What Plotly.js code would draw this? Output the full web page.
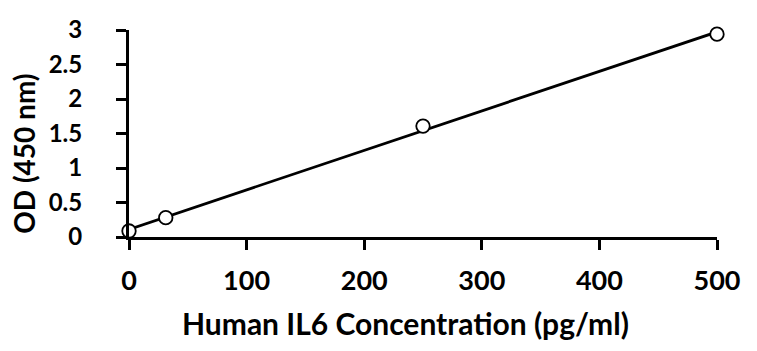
<!DOCTYPE html>
<html><head><meta charset="utf-8">
<script src="https://cdn.plot.ly/plotly-3.0.1.min.js"></script>
<style>html,body{margin:0;padding:0;background:#fff;}#chart{width:757px;height:351px;}</style>
</head><body><div id="chart"></div>
<script>
const concentrations = [0, 31.25, 250, 500];
const odValues = [0.087, 0.28, 1.607, 2.94];
const xTicks = [0, 100, 200, 300, 400, 500];
const yTicks = [0, 0.5, 1, 1.5, 2, 2.5, 3];
const yTickText = ['0', '0.5', '1', '1.5', '2', '2.5', '3'];
const xTitle = 'Human IL6 Concentration (pg/ml)';
const yTitle = 'OD (450 nm)';

// least-squares linear trendline from the data points
const n = concentrations.length;
const mx = concentrations.reduce((a, b) => a + b, 0) / n;
const my = odValues.reduce((a, b) => a + b, 0) / n;
let sxx = 0, sxy = 0;
for (let i = 0; i < n; i++) { sxx += (concentrations[i] - mx) ** 2; sxy += (concentrations[i] - mx) * (odValues[i] - my); }
const slope = sxy / sxx, intercept = my - slope * mx;
const trendX = [Math.min(...concentrations), Math.max(...concentrations)];
const trendY = trendX.map(x => intercept + slope * x);

const font = 'Lato, "Open Sans", sans-serif';
const data = [
  {x: trendX, y: trendY, mode: 'lines', line: {color: '#000', width: 2.8}, hoverinfo: 'skip', showlegend: false, cliponaxis: false},
  {x: concentrations, y: odValues, mode: 'markers', marker: {symbol: 'circle', size: 13.5, color: '#fff', line: {color: '#000', width: 1.8}}, showlegend: false, cliponaxis: false}
];
const axisCommon = {
  showgrid: false, zeroline: false, showline: true, linecolor: '#000', linewidth: 3,
  ticks: 'outside', ticklen: 10, tickwidth: 3, tickcolor: '#000',
  automargin: false
};
const layout = {
  width: 757, height: 351,
  margin: {l: 129, r: 40, t: 30, b: 114},
  paper_bgcolor: '#fff', plot_bgcolor: '#fff',
  font: {family: font, color: '#000', size: 27},
  xaxis: Object.assign({}, axisCommon, {range: [0, 500], tickvals: xTicks, ticktext: xTicks.map(String), ticklabelstandoff: 8,
    tickfont: {family: font, size: 27, color: '#000', weight: 'bold'}}),
  yaxis: Object.assign({}, axisCommon, {range: [0, 3], tickvals: yTicks, ticktext: yTickText, ticklabelstandoff: 29,
    tickfont: {family: font, size: 24, color: '#000', weight: 'bold'}}),
  annotations: [
    {text: xTitle, xref: 'paper', yref: 'paper', x: 0.4702, y: -0.4155, xanchor: 'center', yanchor: 'middle', showarrow: false,
     font: {family: font, size: 30, color: '#000', weight: 'bold'}},
    {text: yTitle, xref: 'paper', yref: 'paper', x: -0.178, y: 0.4034, xanchor: 'center', yanchor: 'middle', textangle: -90, showarrow: false,
     font: {family: font, size: 28, color: '#000', weight: 'bold'}}
  ]
};
Plotly.newPlot('chart', data, layout, {staticPlot: true, displayModeBar: false});
</script></body></html>
